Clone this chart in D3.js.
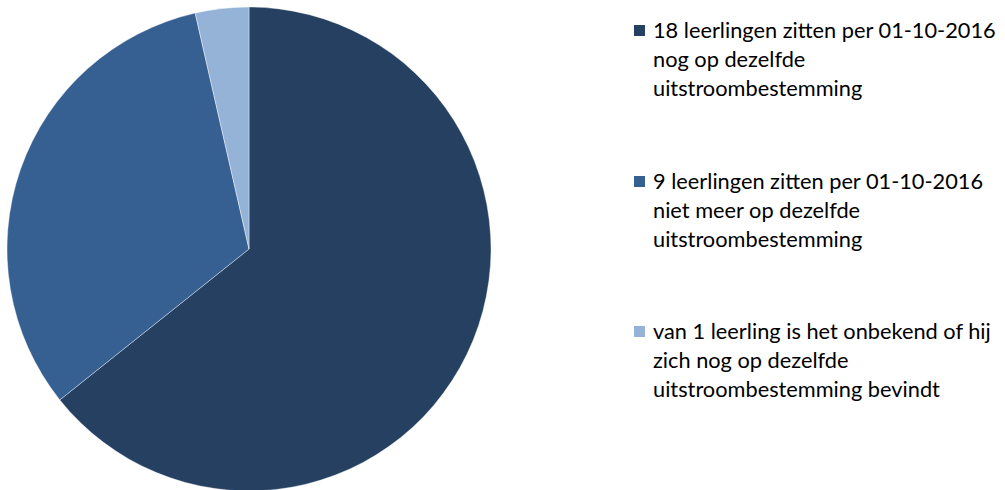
<!DOCTYPE html>
<html><head><meta charset="utf-8">
<script src="https://cdn.jsdelivr.net/npm/d3@7"></script>
<style>body{margin:0;background:#fff}svg{display:block}</style>
</head><body>
<svg id="c" width="1005" height="490"></svg>
<script>
const categories = [
  ["18 leerlingen zitten per 01-10-2016", "nog op dezelfde", "uitstroombestemming"],
  ["9 leerlingen zitten per 01-10-2016", "niet meer op dezelfde", "uitstroombestemming"],
  ["van 1 leerling is het onbekend of hij", "zich nog op dezelfde", "uitstroombestemming bevindt"]
];
const values = [18, 9, 1];
const colors = ["#254061", "#376092", "#95B3D7"];

const svg = d3.select("#c");
const cx = 249, cy = 249, r = 242;
const pie = d3.pie().sort(null).value(d => d)(values);
const arc = d3.arc().innerRadius(0).outerRadius(r);
svg.append("g").attr("transform", `translate(${cx},${cy})`)
  .selectAll("path").data(pie).join("path")
  .attr("d", arc).attr("fill", (d, i) => colors[i])
  .attr("stroke", "#fff").attr("stroke-width", 0.4);

const font = "Lato";
const probe = svg.append("text").attr("font-family", font).attr("font-size", 20).text(categories[0][0]);
const w = probe.node().getComputedTextLength();
probe.remove();
const fs = 20 * 343 / w;

const blockY = [38, 189, 339];
const lg = svg.append("g");
categories.forEach((lines, i) => {
  const g = lg.append("g").attr("transform", `translate(0,${blockY[i]})`);
  g.append("rect").attr("x", 634).attr("y", -13).attr("width", 11).attr("height", 11).attr("fill", colors[i]);
  lines.forEach((t, j) => {
    g.append("text").attr("x", 653).attr("y", j * 29)
      .attr("font-family", font).attr("font-size", fs).attr("fill", "#000").text(t);
  });
});
</script>
</body></html>
